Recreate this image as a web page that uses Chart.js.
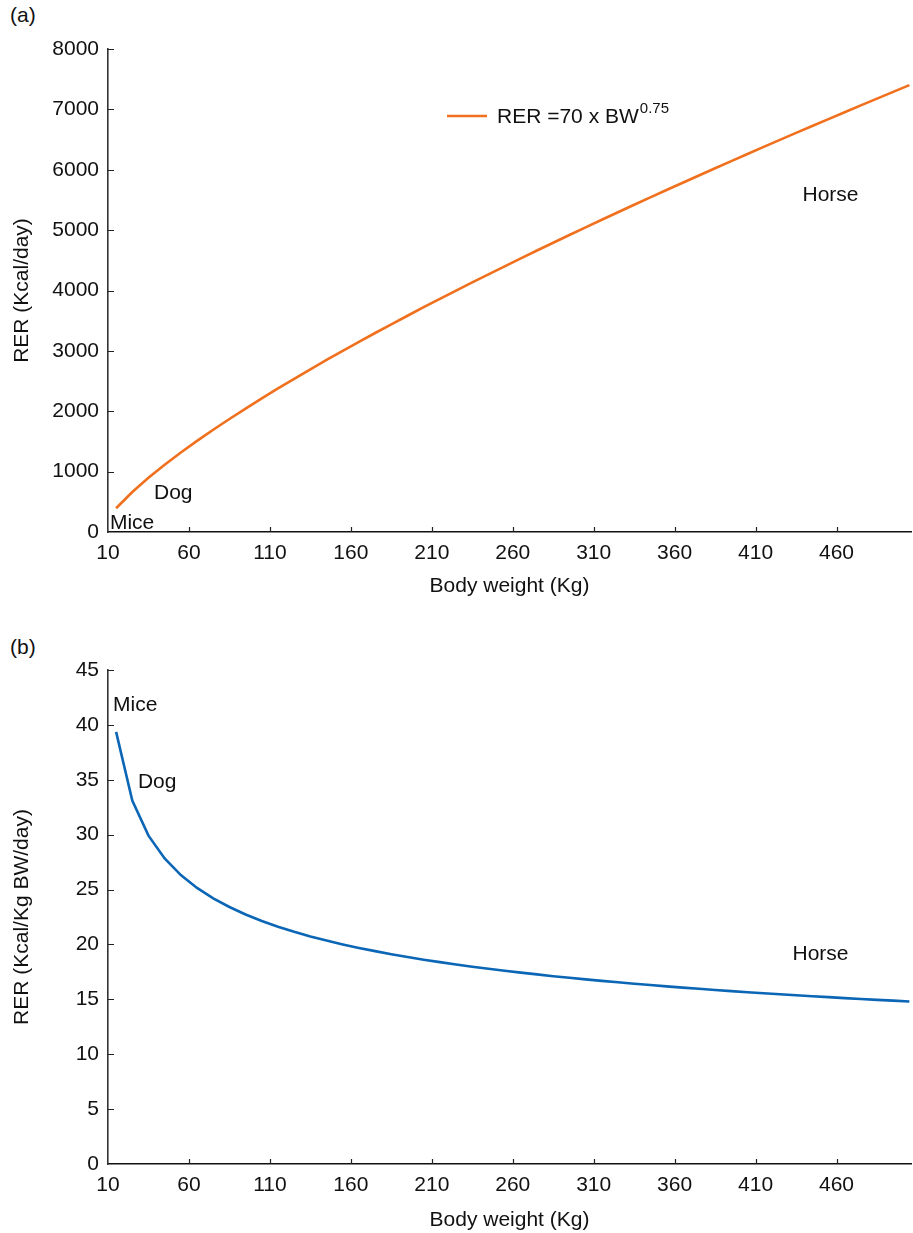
<!DOCTYPE html>
<html>
<head>
<meta charset="utf-8">
<script src="https://cdn.jsdelivr.net/npm/chart.js"></script>
<style>
  body { margin: 0; background: #fff; }
  #wrap { position: relative; width: 913px; height: 1233px; overflow: hidden; }
  .panel-tag { position: absolute; left: 10px; font: 21px "Liberation Sans", Arial, sans-serif; color: #111; }
  canvas { position: absolute; left: 0; }
</style>
</head>
<body>
<div id="wrap">
  <div class="panel-tag" style="top:3px;">(a)</div>
  <canvas id="chartA" width="913" height="600" style="top:0;"></canvas>
  <div class="panel-tag" style="top:635px;">(b)</div>
  <canvas id="chartB" width="913" height="600" style="top:633px;"></canvas>
</div>
<script>
// x positions of the plotted points
const bodyWeight = [15, 25, 35, 45, 55, 65, 75, 85, 95, 105, 115, 125, 135, 145, 155, 165, 175, 185, 195, 205,
  215, 225, 235, 245, 255, 265, 275, 285, 295, 305, 315, 325, 335, 345, 355, 365, 375, 385, 395, 405,
  415, 425, 435, 445, 455, 465, 475, 485, 495, 505];

// panel (a): RER, Kcal/day
const rerDaily = [394, 662, 897, 1113, 1316, 1509, 1694, 1872, 2045, 2214, 2378, 2538, 2695, 2849, 3000, 3149, 3296, 3440, 3582, 3723,
  3862, 3999, 4134, 4268, 4401, 4532, 4662, 4791, 4919, 5046, 5171, 5296, 5420, 5543, 5664, 5785, 5905, 6025, 6143, 6261,
  6378, 6494, 6610, 6725, 6839, 6953, 7066, 7178, 7290, 7402];

// panel (b): RER, Kcal/Kg BW/day
const rerPerKg = [39.36, 33.10, 29.91, 27.83, 26.32, 25.15, 24.20, 23.41, 22.73, 22.14, 21.61, 21.15, 20.73, 20.35, 20.00, 19.68, 19.39, 19.11, 18.85, 18.61,
  18.39, 18.18, 17.97, 17.78, 17.60, 17.43, 17.27, 17.11, 16.96, 16.82, 16.68, 16.55, 16.42, 16.30, 16.18, 16.07, 15.96, 15.85, 15.75, 15.65,
  15.56, 15.46, 15.37, 15.28, 15.20, 15.11, 15.03, 14.95, 14.88, 14.80];

const xTicks = [10, 60, 110, 160, 210, 260, 310, 360, 410, 460];
const yTicksA = [0, 1000, 2000, 3000, 4000, 5000, 6000, 7000, 8000];
const yTicksB = [0, 5, 10, 15, 20, 25, 30, 35, 40, 45];

const notesA = [
  { text: 'Mice', x: 11.2, y: 150 },
  { text: 'Dog', x: 38.4, y: 645 },
  { text: 'Horse', x: 439, y: 5580 }
];
const notesB = [
  { text: 'Mice', x: 13.1, y: 41.8 },
  { text: 'Dog', x: 28.5, y: 34.8 },
  { text: 'Horse', x: 432.8, y: 19.1 }
];

const FONT = '"Liberation Sans", Arial, Helvetica, sans-serif';
const INK = '#111';
const ORANGE = '#f0701e';
const BLUE = '#0b66b5';

// inward tick marks, text notes and the legend for panel (a)
const panelDecor = {
  id: 'panelDecor',
  afterDraw(chart, args, opts) {
    const { ctx } = chart;
    const x = chart.scales.x, y = chart.scales.y;
    ctx.save();
    ctx.strokeStyle = '#222';
    ctx.lineWidth = 1.2;
    ctx.beginPath();
    x.ticks.forEach(t => {
      if (t.value === x.min) return;
      const px = Math.round(x.getPixelForValue(t.value)) + 0.5;
      ctx.moveTo(px, y.bottom);
      ctx.lineTo(px, y.bottom - 5);
    });
    y.ticks.forEach(t => {
      if (t.value === y.min) return;
      const py = Math.round(y.getPixelForValue(t.value)) + 0.5;
      ctx.moveTo(x.left, py);
      ctx.lineTo(x.left + 6, py);
    });
    ctx.stroke();

    ctx.fillStyle = INK;
    ctx.font = '21px ' + FONT;
    ctx.textAlign = 'left';
    ctx.textBaseline = 'middle';
    (opts.notes || []).forEach(n => {
      ctx.fillText(n.text, x.getPixelForValue(n.x), y.getPixelForValue(n.y));
    });

    if (opts.legend) {
      const lg = opts.legend;
      ctx.strokeStyle = lg.color;
      ctx.lineWidth = 2.5;
      ctx.beginPath();
      ctx.moveTo(lg.left, lg.top);
      ctx.lineTo(lg.left + 40, lg.top);
      ctx.stroke();
      ctx.textBaseline = 'alphabetic';
      ctx.font = '21px ' + FONT;
      const tx = lg.left + 50;
      const base = lg.top + 7;
      ctx.fillText(lg.text, tx, base);
      const w = ctx.measureText(lg.text).width;
      ctx.font = '15px ' + FONT;
      ctx.fillText(lg.sup, tx + w + 1, base - 10);
    }
    ctx.restore();
  }
};

function makeChart(id, values, color, yTicks, yMax, yTitle, notes, legend, topPad, xHeight, xTitlePad) {
  return new Chart(document.getElementById(id), {
    type: 'line',
    data: {
      datasets: [{
        data: bodyWeight.map((w, i) => ({ x: w, y: values[i] })),
        borderColor: color,
        borderWidth: 2.6,
        pointRadius: 0,
        tension: 0,
        fill: false
      }]
    },
    options: {
      responsive: false,
      animation: false,
      devicePixelRatio: 1,
      layout: { padding: { top: topPad, right: 2, left: 0, bottom: 0 } },
      plugins: {
        legend: { display: false },
        tooltip: { enabled: false },
        panelDecor: { notes: notes, legend: legend }
      },
      scales: {
        x: {
          type: 'linear',
          min: 10,
          max: 506,
          afterBuildTicks: s => { s.ticks = xTicks.map(v => ({ value: v })); },
          afterFit: s => { s.height = xHeight; },
          grid: { display: false, drawTicks: false },
          border: { display: true, color: '#111', width: 1.6 },
          ticks: { color: INK, font: { family: FONT, size: 21 }, padding: 9, maxRotation: 0, autoSkip: false, callback: v => String(v) },
          title: { display: true, text: 'Body weight (Kg)', color: INK, font: { family: FONT, size: 21 }, padding: { top: 0, bottom: xTitlePad } }
        },
        y: {
          type: 'linear',
          min: 0,
          max: yMax,
          afterBuildTicks: s => { s.ticks = yTicks.map(v => ({ value: v })); },
          afterFit: s => { s.width = 108; },
          grid: { display: false, drawTicks: false },
          border: { display: true, color: '#333', width: 1.6 },
          ticks: { color: INK, font: { family: FONT, size: 21 }, padding: 9, callback: v => String(v) },
          title: { display: true, text: yTitle, color: INK, font: { family: FONT, size: 21 }, padding: { top: 10, bottom: 0 } }
        }
      }
    },
    plugins: [panelDecor]
  });
}

makeChart('chartA', rerDaily, ORANGE, yTicksA, 8000, 'RER (Kcal/day)', notesA,
  { left: 447, top: 116, color: ORANGE, text: 'RER =70 x BW', sup: '0.75' }, 49, 68, 1);
makeChart('chartB', rerPerKg, BLUE, yTicksB, 45, 'RER (Kcal/Kg BW/day)', notesB, null, 37, 69, 0);
</script>
</body>
</html>
